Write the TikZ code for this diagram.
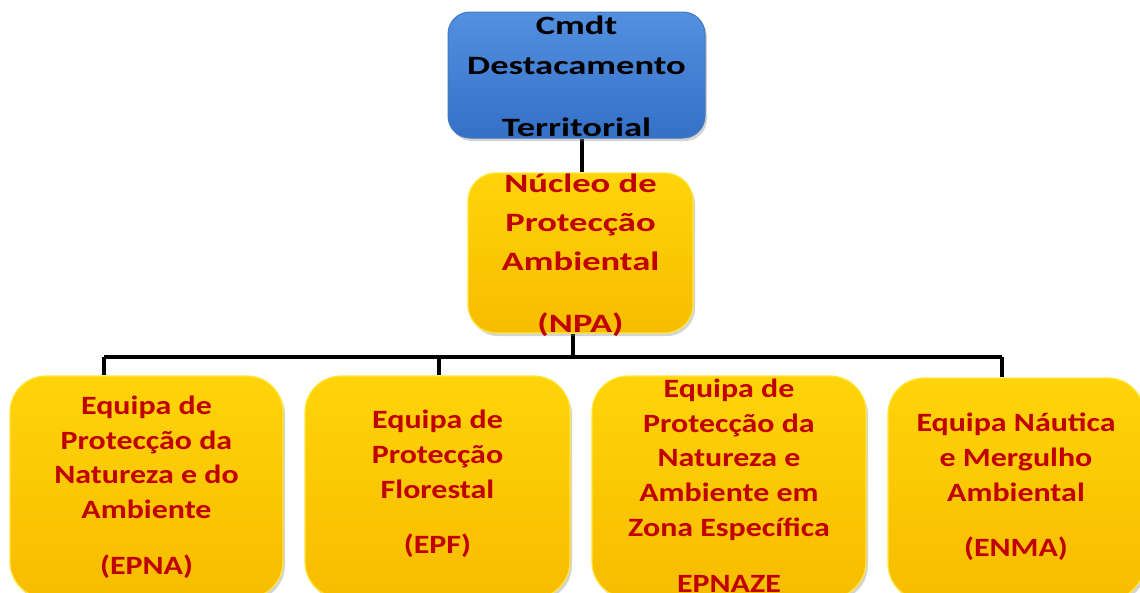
\documentclass[tikz,border=0pt]{standalone}
\usepackage{fontspec}
\setmainfont{Carlito}[FakeStretch=1.21]
\newfontfamily\wideface{Carlito}[FakeStretch=1.38]
\usetikzlibrary{shadows,backgrounds}
\definecolor{boxred}{RGB}{192,0,0}
\definecolor{bluetop}{RGB}{84,144,224}
\definecolor{bluebot}{RGB}{52,112,198}
\definecolor{blueedge}{RGB}{70,120,190}
\definecolor{yeltop}{RGB}{255,212,10}
\definecolor{yelbot}{RGB}{247,188,0}
\definecolor{yeledge}{RGB}{255,230,60}
\tikzset{
  bluebox/.style={rounded corners=22pt, top color=bluetop, bottom color=bluebot,
    draw=blueedge, line width=1pt, drop shadow={shadow xshift=2pt, shadow yshift=-3pt, opacity=0.35}},
  yelbox/.style={top color=yeltop, bottom color=yelbot,
    draw=yeledge, line width=1.2pt, drop shadow={shadow xshift=2pt, shadow yshift=-3pt, opacity=0.35}},
  toptext/.style={align=center, text=black, font=\wideface\bfseries\fontsize{26.5}{40}\selectfont},
  npatext/.style={align=center, text=boxred, font=\wideface\bfseries\fontsize{26.5}{39}\selectfont},
  teamtext/.style={align=center, text=boxred, font=\bfseries\fontsize{26.4}{34.7}\selectfont},
  link/.style={line width=3.6pt, black}
}
\begin{document}
\begin{tikzpicture}[x=1pt,y=-1pt]
\useasboundingbox (0,0) rectangle (1140,592);
\clip (0,0) rectangle (1140,592);
% boxes
\node[bluebox, minimum width=257pt, minimum height=126pt] (top) at (576.5,75) {};
\node[yelbox, rounded corners=28pt, minimum width=225pt, minimum height=160pt] (npa) at (580.5,253) {};
\node[yelbox, rounded corners=36pt, minimum width=273pt, minimum height=222pt] (b1) at (146.5,487) {};
\node[yelbox, rounded corners=36pt, minimum width=265pt, minimum height=222pt] (b2) at (437.5,487) {};
\node[yelbox, rounded corners=36pt, minimum width=274pt, minimum height=222pt] (b3) at (729,487) {};
\node[yelbox, rounded corners=36pt, minimum width=256pt, minimum height=222pt] (b4) at (1016,489) {};
% bus coordinates
\coordinate (busL) at (104,357);
\coordinate (busR) at (1002,357);
\coordinate (busM) at (573,357);
\coordinate (busB) at (439,357);
% connectors behind the boxes
\begin{scope}[on background layer]
\draw[link] ([xshift=5.5pt]top.south) -- ([xshift=5.5pt]top.south |- npa.north);
\draw[link] (busM |- npa.south) -- (busM);
\draw[link] (busL) -- (busR);
\draw[link] (busL) -- (busL |- b1.north);
\draw[link] (busB) -- (busB |- b2.north);
\draw[link] (busR) -- (busR |- b4.north);
\end{scope}
% texts
\node[toptext] (toplbl) at (576.5,76) {Cmdt\\Destacamento\\[22pt]Territorial};
\node[npatext] (npalbl) at (580.5,255) {Núcleo de\\Protecção\\Ambiental\\[23pt](NPA)};
\node[teamtext] (b1lbl) at (146.5,487) {Equipa de\\Protecção da\\Natureza e do\\Ambiente\\[21pt](EPNA)};
\node[teamtext] (b2lbl) at (437.5,484) {Equipa de\\Protecção\\Florestal\\[21pt](EPF)};
\node[teamtext] (b3lbl) at (729,485.5) {Equipa de\\Protecção da\\Natureza e\\Ambiente em\\Zona Específica\\[21pt]EPNAZE};
\node[teamtext] (b4lbl) at (1016,487) {Equipa Náutica\\e Mergulho\\Ambiental\\[21pt](ENMA)};
\end{tikzpicture}
\end{document}
